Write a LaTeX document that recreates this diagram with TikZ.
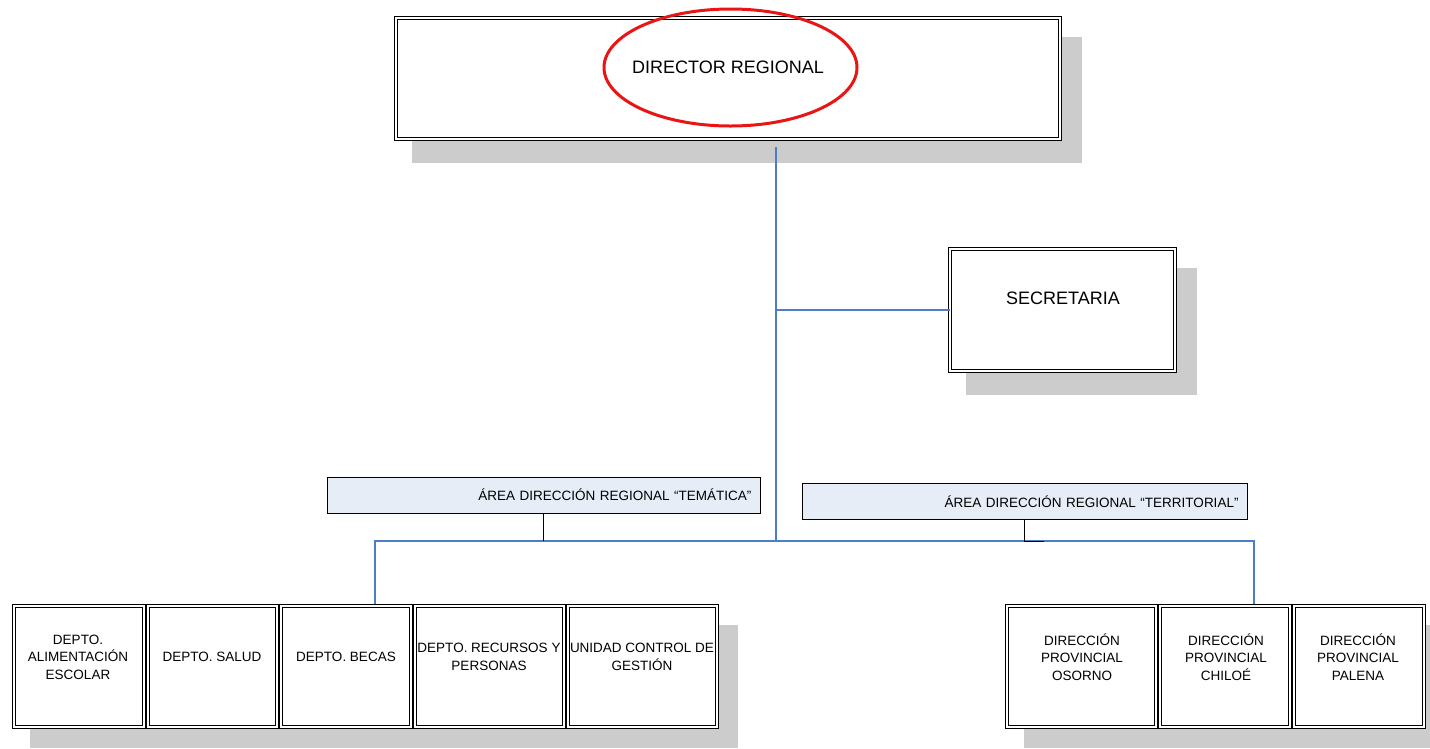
\documentclass[tikz,border=0pt]{standalone}
\usepackage{fontspec}
\setmainfont{Liberation Sans}
\usetikzlibrary{shapes.geometric,calc}
\definecolor{connblue}{RGB}{74,126,197}
\definecolor{shade}{RGB}{204,204,204}
\definecolor{areafill}{RGB}{231,237,247}
\definecolor{ellred}{RGB}{235,20,20}
\begin{document}
\begin{tikzpicture}[x=1pt,y=-1pt,
  shadowbox/.style={fill=shade,draw=none},
  dbox/.style={draw=black,double=white,double distance=2.2pt,line width=0.9pt,fill=white,
    inner sep=0pt,minimum height=121pt},
  txt/.style={font=\fontsize{13.5}{17.5}\selectfont,align=center,inner sep=0pt},
  bigtxt/.style={font=\fontsize{18}{22}\selectfont,inner sep=0pt},
  areabox/.style={draw=black,line width=0.7pt,fill=areafill,minimum height=36pt,
    inner xsep=8.5pt,inner ysep=0pt,align=right,font=\fontsize{13.5}{17.5}\selectfont},
  conn/.style={draw=connblue,line width=1.2pt},
  blk/.style={draw=black,line width=0.9pt}]
\useasboundingbox (0,0) rectangle (1430,748);
% shadows
\fill[shadowbox] (412,37) rectangle (1082,163);
\fill[shadowbox] (966,268) rectangle (1197,395);
\fill[shadowbox] (30,625) rectangle (738,748);
\fill[shadowbox] (1024,625) rectangle (1430,748);
% top box
\node[dbox,minimum width=664pt] (dr) at (728,78.5) {};
\node[draw=ellred,line width=3pt,ellipse,minimum width=253pt,minimum height=117pt,inner sep=0pt] (ell) at (730.5,67.5) {};
\node[bigtxt] (drt) at (728,67) {DIRECTOR REGIONAL};
% secretaria
\node[dbox,minimum width=225pt,minimum height=122pt] (sec) at (1062.5,310) {};
\node[bigtxt] (sect) at (1063,298) {SECRETARIA};
% area boxes
\node[areabox,text width=416pt] (tem) at (543.5,495) {ÁREA DIRECCIÓN REGIONAL “TEMÁTICA”};
\node[areabox,text width=428pt] (ter) at (1024.5,501.5) {ÁREA DIRECCIÓN REGIONAL “TERRITORIAL”};
% bottom left boxes
\node[dbox,minimum width=130pt] (b1) at (79,666.5) {};
\node[dbox,minimum width=129pt] (b2) at (212.5,666.5) {};
\node[dbox,minimum width=130pt] (b3) at (346,666.5) {};
\node[dbox,minimum width=149pt] (b4) at (489.5,666.5) {};
\node[dbox,minimum width=149pt] (b5) at (642.5,666.5) {};
\node[txt] (t1) at (78,657) {DEPTO.\\ALIMENTACIÓN\\ESCOLAR};
\node[txt] (t2) at (212,657) {DEPTO. SALUD};
\node[txt] (t3) at (346,657) {DEPTO. BECAS};
\node[txt] (t4) at (489,657) {DEPTO. RECURSOS Y\\PERSONAS};
\node[txt] (t5) at (642,657) {UNIDAD CONTROL DE\\GESTIÓN};
% bottom right boxes
\node[dbox,minimum width=149pt] (p1) at (1081.5,666.5) {};
\node[dbox,minimum width=130pt] (p2) at (1225,666.5) {};
\node[dbox,minimum width=130pt] (p3) at (1359,666.5) {};
\node[txt] (pt1) at (1082,657) {DIRECCIÓN\\PROVINCIAL\\OSORNO};
\node[txt] (pt2) at (1226,657) {DIRECCIÓN\\PROVINCIAL\\CHILOÉ};
\node[txt] (pt3) at (1358,657) {DIRECCIÓN\\PROVINCIAL\\PALENA};
% connectors
\coordinate (drs) at (776,147);
\coordinate (j) at (776,541);
\coordinate (ldrop) at (375,604);
\coordinate (rdrop) at (1254,604);
\draw[conn] (drs) -- (j);
\draw[conn] (drs |- sec.west) -- (sec.west);
\draw[conn] (j) -| (ldrop);
\draw[conn] (j) -| (rdrop);
\draw[blk] (tem.south) -- (tem.south |- j);
\draw[blk] (ter.south) -- (ter.south |- j) -- ++(19,0);
\end{tikzpicture}
\end{document}
